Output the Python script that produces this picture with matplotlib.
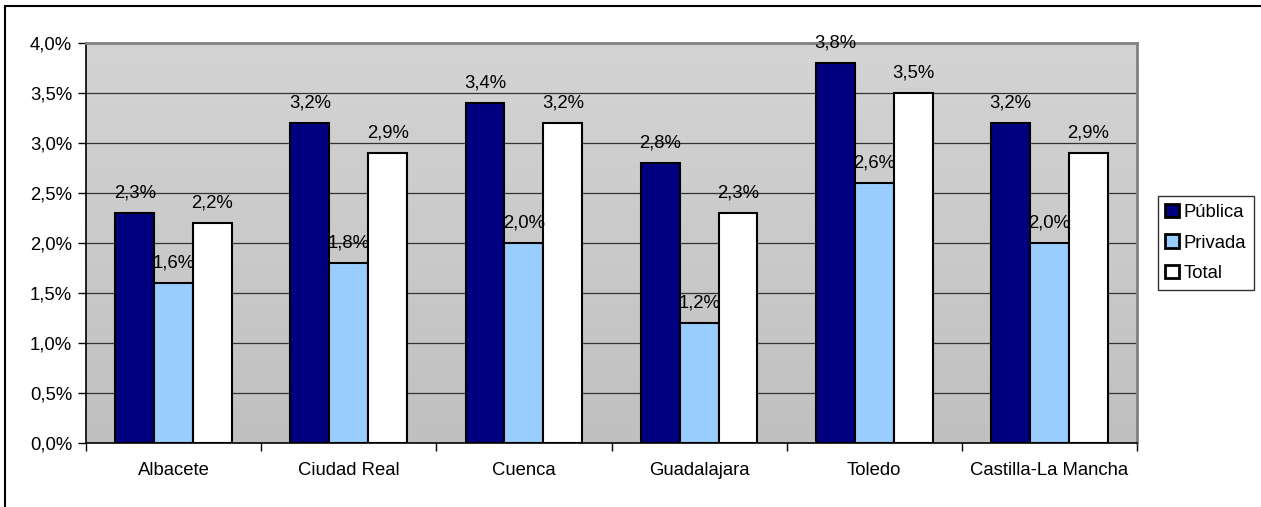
import matplotlib
import numpy as np

matplotlib.use("Agg")
import matplotlib.pyplot as plt
from matplotlib.patches import Rectangle


provinces = ["Albacete", "Ciudad Real", "Cuenca", "Guadalajara", "Toledo", "Castilla-La Mancha"]
publica = [2.3, 3.2, 3.4, 2.8, 3.8, 3.2]
privada = [1.6, 1.8, 2.0, 1.2, 2.6, 2.0]
total = [2.2, 2.9, 3.2, 2.3, 3.5, 2.9]

series = [
    ("Pública", publica, "#000080"),
    ("Privada", privada, "#99CCFF"),
    ("Total", total, "#FFFFFF"),
]

plt.rcParams["font.family"] = ["Liberation Sans", "DejaVu Sans"]
FS = 13.3

fig = plt.figure(figsize=(12.61, 5.07), dpi=100)
ax = fig.add_axes([86 / 1261, 64 / 507, (1137 - 86) / 1261, 400 / 507])

# borde exterior del grafico (solo arriba e izquierda visibles)
fig.patches.append(
    Rectangle((5 / 1261, -0.05), 1.2, 0.05 + 501 / 507, transform=fig.transFigure,
              fill=False, edgecolor="black", linewidth=1.5, zorder=0)
)

n = len(provinces)
x = np.arange(n)
width = 0.222

# fondo degradado gris
grad = np.linspace(0, 1, 256).reshape(-1, 1)
ax.imshow(grad, extent=[-0.5, n - 0.5, 0, 4.0], aspect="auto", origin="lower",
          cmap=matplotlib.colors.LinearSegmentedColormap.from_list("g", ["#c0c0c0", "#d4d4d4"]),
          zorder=0)

for val in np.arange(0.5, 4.0, 0.5):
    ax.axhline(val, color="#333333", linewidth=0.9, zorder=1)

for i, (name, values, color) in enumerate(series):
    pos = x + (i - 1) * width
    ax.bar(pos, values, width=width, color=color, edgecolor="black", linewidth=1.5,
           label=name, zorder=2)
    for px, v in zip(pos, values):
        ax.annotate(f"{v:.1f}%".replace(".", ","), (px, v), xytext=(0, 8.5),
                    textcoords="offset points", ha="center", va="bottom", fontsize=FS,
                    zorder=3)

ax.set_xlim(-0.5, n - 0.5)
ax.set_ylim(0, 4.0)
ax.set_yticks(np.arange(0, 4.01, 0.5))
ax.set_yticklabels([f"{v:.1f}%".replace(".", ",") for v in np.arange(0, 4.01, 0.5)], fontsize=FS)
ax.set_xticks(x)
ax.set_xticklabels(provinces, fontsize=FS)
ax.set_xticks(np.arange(-0.5, n, 1), minor=True)
ax.tick_params(axis="x", which="major", length=0, pad=14)
ax.tick_params(axis="x", which="minor", length=6, width=1, direction="out")
ax.tick_params(axis="y", length=6, width=1, direction="out", pad=4)

for side in ["left", "bottom"]:
    ax.spines[side].set_color("black")
    ax.spines[side].set_linewidth(1.2)
for side in ["top", "right"]:
    ax.spines[side].set_color("#808080")
    ax.spines[side].set_linewidth(2)

leg = ax.legend(loc="center left", bbox_to_anchor=(1.02, 0.5), fontsize=FS,
                frameon=True, fancybox=False, edgecolor="black", handlelength=0.75,
                handleheight=0.75, handletextpad=0.25, borderpad=0.4, labelspacing=0.72,
                borderaxespad=0)
leg.get_frame().set_linewidth(1)
for h in leg.legend_handles:
    h.set_linewidth(2)

fig.savefig("out.png", dpi=100)
